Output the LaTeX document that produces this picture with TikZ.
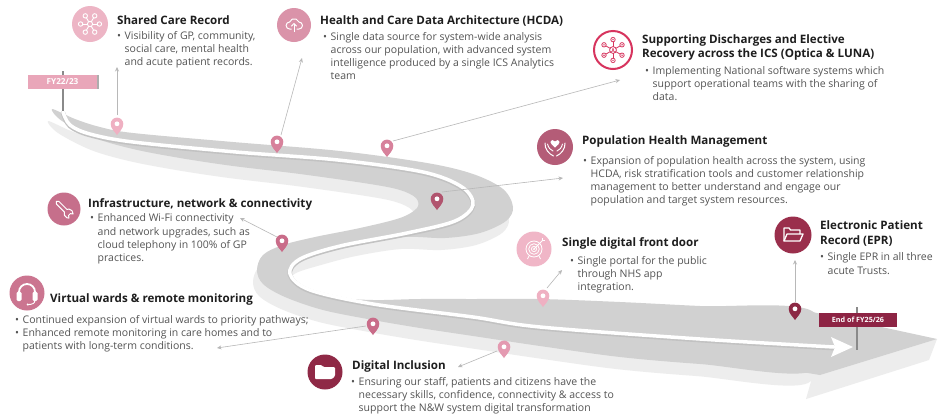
\documentclass[tikz,border=0pt]{standalone}
\usepackage{fontspec}
\setmainfont{Open Sans}
\usetikzlibrary{arrows.meta}

\definecolor{titlec}{HTML}{1E1E1E}
\definecolor{bodyc}{HTML}{545454}
\definecolor{roadc}{HTML}{D1D1D1}
\definecolor{shadowc}{HTML}{EDEDED}
\definecolor{edgec}{HTML}{C2C2C2}
\definecolor{linkc}{HTML}{B8B8B8}
\definecolor{postc}{HTML}{8A8A8A}
\definecolor{signpink}{HTML}{E9A6B9}
\definecolor{signred}{HTML}{8D2444}
\definecolor{pinA}{HTML}{EFB0C2}
\definecolor{pinB}{HTML}{D7819B}
\definecolor{pinC}{HTML}{B1546E}
\definecolor{pinD}{HTML}{C96C89}
\definecolor{pinE}{HTML}{E49AB1}
\definecolor{pinF}{HTML}{8C2844}
\definecolor{icA}{HTML}{EDB5C5}
\definecolor{icB}{HTML}{DA93A9}
\definecolor{icC}{HTML}{D7345E}
\definecolor{icD}{HTML}{B45C77}
\definecolor{icE}{HTML}{C66F8B}
\definecolor{icF}{HTML}{CB7590}
\definecolor{icG}{HTML}{F0B6C7}
\definecolor{icH}{HTML}{9A2F4C}
\definecolor{icI}{HTML}{8F2946}

\newcommand{\bitem}{\makebox[7.5pt][l]{\textbullet}}
\newcommand{\bcont}{\hspace*{7.5pt}}

% outline of the winding road, travelling from the start post to the arrow
\newcommand{\roadpath}{plot[smooth cycle, tension=0.55] coordinates {
 (52,109) (75,119) (100,127) (133,133) (233,142) (340,151) (427,163)
 (473,174) (503,189) (513,207) (506,221) (480,233) (445,238) (405,237)
 (360,244) (325,253) (300,261) (292,270) (294,280) (306,289) (330,297)
 (373,300) (420,299) (473,299) (540,299) (620,302) (700,306) (812,311)
 (812,371) (700,364) (620,357) (540,346) (473,336) (420,328) (373,320)
 (323,310) (285,297) (263,284) (257,270) (263,255) (283,245) (315,237)
 (360,228) (400,218) (417,208) (416,198) (400,190) (370,184) (300,174)
 (233,166) (180,158) (133,149) (95,138) (62,121)}}
\newcommand{\stripe}{plot[smooth, tension=0.55] coordinates {
 (63,112) (70,125) (90,134) (133,142) (236,152) (338,160) (423,172)
 (462,187) (473,205) (455,221) (407,233) (340,246) (300,259) (290,274)
 (310,290) (373,304) (473,317) (540,327) (700,339) (834,347)}}

\tikzset{
  link/.style={draw=linkc, line width=0.6pt, -{Stealth[length=4.5pt,width=4pt]}},
  ttl/.style={anchor=north west, inner sep=0pt, align=left, text=titlec,
    font=\fontsize{11.6}{13.3}\selectfont\bfseries, execute at begin node=\strut},
  txt/.style={anchor=north west, inner sep=0pt, align=left, text=bodyc,
    font=\fontsize{10.5}{13.2}\selectfont, execute at begin node=\strut},
  badge/.style={circle, minimum size=#1, inner sep=0pt, draw=none},
  signbox/.style={rectangle, inner sep=0pt, text=white,
    font=\fontsize{7.2}{8}\selectfont\bfseries},
  pics/mappin/.style={code={
    \fill[#1] (0,0) .. controls (-2,-3) and (-6.3,-6.5) .. (-6.3,-11)
      .. controls (-6.3,-14.6) and (-3.5,-17.4) .. (0,-17.4)
      .. controls (3.5,-17.4) and (6.3,-14.6) .. (6.3,-11)
      .. controls (6.3,-6.5) and (2,-3) .. (0,0) -- cycle;
    \fill[white] (0,-11.2) circle (2.4);
  }}
}

\begin{document}
\begin{tikzpicture}[x=1pt, y=-1pt]
\useasboundingbox (0,0) rectangle (938,416);
\fill[white] (0,0) rectangle (938,416);

% ---- road: soft shadow, body, arrow tip and white edge stripe ----
\fill[shadowc, shift={(-4,12)}] \roadpath;
\fill[shadowc] (560,352) -- (812,378) -- (806,399) -- (929,360) -- (937,339) -- cycle;
\fill[roadc] \roadpath;
\fill[roadc] (790,310) -- (810,311.5) -- (937,339) -- (820,375) -- (790,370) -- cycle;
\draw[edgec, line width=4.6pt, line cap=round, shift={(0,1.1)}] \stripe;
\draw[white, line width=3.5pt, line cap=round] \stripe;
\fill[white] (831,337) -- (853,347) -- (831,357) -- (835,347) -- cycle;

% ---- start and end posts ----
\draw[postc, line width=1.8pt] (63,71) -- (63,111);
\node[signbox, fill=signpink, minimum width=69pt, minimum height=14pt,
  font=\fontsize{8.2}{9}\selectfont\bfseries] (fystart) at (62.5,82) {FY22/23};
\fill[postc!70] (97,75) rectangle (99,89);
\draw[postc, line width=1.4pt] (857,307) -- (857,350);
\node[signbox, fill=signred, minimum width=78pt, minimum height=14pt] (fyend) at (858,320) {End of FY25/26};

% ---- connector anchors ----
\coordinate (p1) at (117,115);  \coordinate (e1) at (117,67);
\coordinate (p2) at (281,135);  \coordinate (e2) at (302,58);
\coordinate (p3) at (393,141);  \coordinate (e3) at (620,80);
\coordinate (p4) at (442,192);  \coordinate (e4) at (563,178);
\coordinate (p5) at (277,237);  \coordinate (e5) at (240,218);
\coordinate (p6) at (366,326);  \coordinate (e6) at (217,348);
\coordinate (p7) at (547,288);  \coordinate (e7) at (562,270);
\coordinate (p8) at (497,351);  \coordinate (e8) at (458,367);
\coordinate (p9) at (795,302);  \coordinate (e9) at (795,260);
\foreach \i in {1,...,9} {\draw[link] (p\i) -- (e\i);}

% ---- map pins along the road ----
\pic at (117,135) {mappin=pinA};
\pic at (277,153) {mappin=pinB};
\pic at (387,157) {mappin=pinB};
\pic at (437,210) {mappin=pinC};
\pic at (282,252) {mappin=pinD};
\pic at (373,335) {mappin=pinD};
\pic at (543,307) {mappin=pinA};
\pic at (504,358) {mappin=pinE};
\pic at (795,320) {mappin=pinF};

% ---- icon badges ----
\node[badge=36pt, fill=icA] (i1) at (90,24) {};
\begin{scope}[shift={(90,24)}, yscale=-1, white, line width=0.9pt]
  \draw (0,0) circle (2.6);
  \foreach \a in {0,60,...,300} {\draw (\a:2.6) -- (\a:7.2); \draw (\a:9.4) circle (2.2);}
\end{scope}

\node[badge=34pt, fill=icB] (i2) at (294,25) {};
\begin{scope}[shift={(294,25)}, yscale=-1, white, line width=1pt, line join=round]
  \draw (-2.5,-4) -- (-4.4,-4) arc[start angle=270, end angle=90, radius=3.5]
    arc[start angle=160, end angle=20, radius=5]
    arc[start angle=90, end angle=-90, radius=3.5] -- (2.5,-4);
  \draw (0,-7) -- (0,1.5);
  \draw (-2.6,-1.2) -- (0,1.5) -- (2.6,-1.2);
\end{scope}

\node[badge=38pt, fill=white, draw=icC, line width=2pt] (i3) at (613,50) {};
\begin{scope}[shift={(613,50)}, yscale=-1, icC, line width=0.8pt]
  \draw (0,0) circle (3.4);
  \fill (0,0.9) circle (1);
  \draw (-1.8,-2.2) arc[start angle=180, end angle=0, radius=1.8];
  \foreach \a in {30,90,...,330} {\draw (\a:3.4) -- (\a:8.2); \draw (\a:10.4) circle (2.2); \fill (\a:10.4) circle (0.8);}
\end{scope}

\node[badge=36pt, fill=icD] (i4) at (555,147) {};
\begin{scope}[shift={(555,147)}, yscale=-1, white]
  \fill (0,-0.5) .. controls (-2.5,1.8) and (-4.6,3.3) .. (-4.6,5)
    .. controls (-4.6,7.3) and (-1.4,7.8) .. (0,5.6)
    .. controls (1.4,7.8) and (4.6,7.3) .. (4.6,5)
    .. controls (4.6,3.3) and (2.5,1.8) .. (0,-0.5);
  \draw[line width=1pt, line cap=round] (-10,4) .. controls (-10.5,-2) and (-6,-7) .. (-1.5,-9);
  \draw[line width=1pt, line cap=round] (10,4) .. controls (10.5,-2) and (6,-7) .. (1.5,-9);
  \draw[line width=0.9pt, line cap=round] (-7.5,3) .. controls (-6.5,-1) and (-4.5,-3) .. (-2,-4);
  \draw[line width=0.9pt, line cap=round] (7.5,3) .. controls (6.5,-1) and (4.5,-3) .. (2,-4);
\end{scope}

\node[badge=33pt, fill=icE] (i5) at (64,209) {};
\begin{scope}[shift={(64,209)}, yscale=-1, rotate=45, white, line width=1pt, line join=round]
  \draw (2.38,1.8) -- (-9,1.8) arc[start angle=90, end angle=270, radius=1.8]
    -- (2.38,-1.8) arc[start angle=-156.4, end angle=-40, radius=4.5]
    -- (7.8,-1.3) -- (7.8,1.3) -- (9.95,2.89)
    arc[start angle=40, end angle=156.4, radius=4.5] -- cycle;
\end{scope}

\node[badge=35pt, fill=icF] (i6) at (27,293) {};
\begin{scope}[shift={(27,293)}, yscale=-1, white]
  \draw[line width=1.8pt] (-8,-1) -- (-8,1) arc[start angle=180, end angle=0, radius=8] -- (8,-1);
  \fill[rounded corners=1.5pt] (-10.5,-8) rectangle (-5.5,1.5);
  \fill[rounded corners=1.5pt] (5.5,-8) rectangle (10.5,1.5);
  \draw[line width=0.9pt] (8,-7) .. controls (8,-10.5) and (5,-11.5) .. (1.5,-11.5);
  \fill (0.8,-11.5) circle (1.2);
\end{scope}

\node[badge=35pt, fill=icG] (i7) at (534,249) {};
\begin{scope}[shift={(534,249)}, yscale=-1, white, line width=0.8pt]
  \draw (0,0) circle (8);
  \draw (0,0) circle (5.3);
  \draw (0,0) circle (2.6);
  \fill (0,0) circle (1);
  \draw (0,0) -- (8.5,8.5);
  \draw (8.5,8.5) -- (8.5,11) (8.5,8.5) -- (11,8.5);
  \draw (-5,-7) -- (-6.5,-10) (5,-7) -- (6.5,-10);
\end{scope}

\node[badge=37pt, fill=icH] (i8) at (793,235) {};
\begin{scope}[shift={(793,235)}, yscale=-1, white, line width=1.3pt, line join=round]
  \draw (-9,-6) -- (-9,7) -- (-4,7) -- (-2.5,5) -- (7,5) -- (7,1);
  \draw (-9,-6) -- (-6,1) -- (10,1) -- (7,-6) -- cycle;
\end{scope}

\node[badge=35pt, fill=icI] (i9) at (325,372) {};
\begin{scope}[shift={(325,372)}, yscale=-1, white]
  \fill[rounded corners=1pt] (-10,-7) -- (-10,7) -- (-3.5,7) -- (-1.5,5) -- (10,5)
    -- (10,-4) -- (7,-7) -- cycle;
\end{scope}

% ---- titles and bullet texts ----
\node[ttl] (t1) at (117,14.7) {Shared Care Record};
\node[txt] (b1) at (117,30.8) {\bitem Visibility of GP, community,\\ \bcont social care, mental health\\ \bcont and acute patient records.};

\node[ttl] (t2) at (320,14.7) {Health and Care Data Architecture (HCDA)};
\node[txt] (b2) at (323,31.8) {\bitem Single data source for system-wide analysis\\ \bcont across our population, with advanced system\\ \bcont intelligence produced by a single ICS Analytics\\ \bcont team};

\node[ttl] (t3) at (642,34.7) {Supporting Discharges and Elective\\ Recovery across the ICS (Optica \& LUNA)};
\node[txt] (b3) at (645,65.8) {\bitem Implementing National software systems which\\ \bcont support operational teams with the sharing of\\ \bcont data.};

\node[ttl] (t4) at (582,134.7) {Population Health Management};
\node[txt] (b4) at (583,155.8) {\bitem Expansion of population health across the system, using\\ \bcont HCDA, risk stratification tools and customer relationship\\ \bcont management to better understand and engage our\\ \bcont population and target system resources.};

\node[ttl] (t5) at (88,197.7) {Infrastructure, network \& connectivity};
\node[txt] (b5) at (90,213.8) {\bitem Enhanced Wi-Fi connectivity\\ \bcont and network upgrades, such as\\ \bcont cloud telephony in 100\% of GP\\ \bcont practices.};

\node[ttl] (t6) at (50,292.7) {Virtual wards \& remote monitoring};
\node[txt] (b6) at (15,315.3) {\bitem Continued expansion of virtual wards to priority pathways;\\ \bitem Enhanced remote monitoring in care homes and to\\ \bcont patients with long-term conditions.};

\node[ttl] (t7) at (562,236.7) {Single digital front door};
\node[txt] (b7) at (570,255.8) {\bitem Single portal for the public\\ \bcont through NHS app\\ \bcont integration.};

\node[ttl, font=\fontsize{11.6}{15}\selectfont\bfseries] (t8) at (820,220.5) {Electronic Patient\\ Record (EPR)};
\node[txt] (b8) at (820,252.8) {\bitem Single EPR in all three\\ \bcont acute Trusts.};

\node[ttl] (t9) at (352,359.7) {Digital Inclusion};
\node[txt] (b9) at (351,376.8) {\bitem Ensuring our staff, patients and citizens have the\\ \bcont necessary skills, confidence, connectivity \& access to\\ \bcont support the N\&W system digital transformation};
\end{tikzpicture}
\end{document}
